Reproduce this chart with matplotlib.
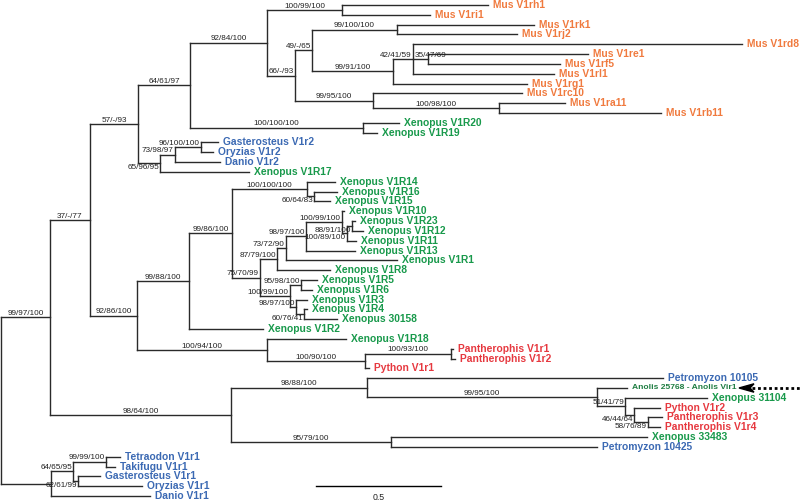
import matplotlib
matplotlib.use('Agg')
import matplotlib.pyplot as plt
from matplotlib.patches import Polygon

# tips, top to bottom: name, parent node, branch length
tip_names = [
    'Mus V1rh1', 'Mus V1ri1', 'Mus V1rk1', 'Mus V1rj2', 'Mus V1rd8', 'Mus V1re1',
    'Mus V1rf5', 'Mus V1rl1', 'Mus V1rg1', 'Mus V1rc10', 'Mus V1ra11', 'Mus V1rb11',
    'Xenopus V1R20', 'Xenopus V1R19', 'Gasterosteus V1r2', 'Oryzias V1r2', 'Danio V1r2',
    'Xenopus V1R17', 'Xenopus V1R14', 'Xenopus V1R16', 'Xenopus V1R15', 'Xenopus V1R10',
    'Xenopus V1R23', 'Xenopus V1R12', 'Xenopus V1R11', 'Xenopus V1R13', 'Xenopus V1R1',
    'Xenopus V1R8', 'Xenopus V1R5', 'Xenopus V1R6', 'Xenopus V1R3', 'Xenopus V1R4',
    'Xenopus 30158', 'Xenopus V1R2', 'Xenopus V1R18', 'Pantherophis V1r1',
    'Pantherophis V1r2', 'Python V1r1', 'Petromyzon 10105', 'Anolis 25768 - Anolis Vir1',
    'Xenopus 31104', 'Python V1r2', 'Pantherophis V1r3', 'Pantherophis V1r4',
    'Xenopus 33483', 'Petromyzon 10425', 'Tetraodon V1r1', 'Takifugu V1r1',
    'Gasterosteus V1r1', 'Oryzias V1r1', 'Danio V1r1']
tip_parent = [
    'F', 'F', 'I', 'I', 'K', 'L', 'L', 'K', 'J', 'M', 'N', 'N',
    'O', 'O', 'S', 'S', 'Q', 'P', 'W', 'X', 'X', 'AC', 'AD', 'AD', 'AE', 'AB', 'AA',
    'Z', 'AG', 'AG', 'AH', 'AI', 'AI', 'U', 'AJ', 'AL', 'AL', 'AK', 'AN', 'AO',
    'AP', 'AQ', 'AR', 'AR', 'AS', 'AS', 'AV', 'AV', 'AW', 'AW', 'AT']
tip_length = [
    0.584, 0.352, 0.548, 0.48, 1.316, 0.64, 0.528, 0.564, 0.536, 0.596, 0.264, 0.648,
    0.144, 0.056, 0.068, 0.048, 0.18, 0.356, 0.112, 0.092, 0.064, 0.008,
    0.012, 0.044, 0.036, 0.196, 0.444, 0.212, 0.064, 0.044, 0.044, 0.012,
    0.132, 0.296, 0.316, 0.008, 0.016, 0.016, 1.184, 0.12,
    0.328, 0.104, 0.056, 0.048, 1.024, 0.824, 0.056, 0.036, 0.088, 0.256, 0.396]

# internal nodes
node_names = ['R', 'A', 'B', 'C', 'D', 'E', 'F', 'G', 'H', 'I', 'J', 'K', 'L', 'M', 'N',
              'O', 'P', 'Q', 'S', 'T', 'U', 'V', 'W', 'X', 'Y', 'Z', 'AA', 'AB', 'AC',
              'AE', 'AD', 'AF', 'AG', 'AH', 'AI', 'AJ', 'AK', 'AL', 'AM', 'AN', 'AO',
              'AP', 'AQ', 'AR', 'AS', 'AT', 'AU', 'AV', 'AW']
node_parent = [None, 'R', 'A', 'B', 'C', 'D', 'E', 'E', 'G', 'H', 'H', 'J', 'K', 'G', 'M',
               'D', 'C', 'P', 'Q', 'B', 'T', 'U', 'V', 'W', 'V', 'Y', 'Z', 'AA', 'AB',
               'AC', 'AE', 'Y', 'AF', 'AF', 'AH', 'T', 'AJ', 'AK', 'A', 'AM', 'AN',
               'AO', 'AP', 'AQ', 'AM', 'R', 'AT', 'AU', 'AU']
node_length = [0.0, 0.196, 0.16, 0.192, 0.208, 0.308, 0.30, 0.112, 0.068, 0.34, 0.324,
               0.08, 0.06, 0.312, 0.504, 0.692, 0.088, 0.06, 0.104, 0.188, 0.208, 0.172,
               0.30, 0.028, 0.112, 0.068, 0.036, 0.08, 0.144, 0.02, 0.02, 0.12, 0.044,
               0.024, 0.032, 0.52, 0.392, 0.344, 0.724, 0.544, 0.92, 0.112, 0.036,
               0.056, 0.64, 0.2, 0.088, 0.132, 0.02]
node_support = ['', '99/97/100', '37/-/77', '57/-/93', '64/61/97', '92/84/100',
                '100/99/100', '66/-/93', '49/-/65', '99/100/100', '99/91/100',
                '42/41/59', '35/47/69', '99/95/100', '100/98/100', '100/100/100',
                '65/96/95', '73/98/97', '96/100/100', '92/86/100', '99/88/100',
                '99/86/100', '100/100/100', '60/64/83', '75/70/99', '87/79/100',
                '73/72/90', '98/97/100', '100/99/100', '100/89/100', '88/91/100',
                '100/99/100', '95/98/100', '98/97/100', '60/76/41', '100/94/100',
                '100/90/100', '100/93/100', '98/64/100', '98/88/100', '99/95/100',
                '51/41/79', '46/44/64', '58/76/89', '95/79/100', '', '64/65/95',
                '99/99/100', '62/61/99']
# support values printed under their branch
below = {'65/96/95', '60/64/83', '60/76/41', '88/91/100', '100/89/100',
         '46/44/64', '58/76/89', '62/61/99'}
# support values that start at the branch base instead of ending at the node
from_base = {'35/47/69'}

genus_colors = {'Mus': '#f07a3e', 'Xenopus': '#18994b', 'Gasterosteus': '#3b69b3',
                'Oryzias': '#3b69b3', 'Danio': '#3b69b3', 'Tetraodon': '#3b69b3',
                'Takifugu': '#3b69b3', 'Petromyzon': '#3b69b3', 'Python': '#e6383f',
                'Pantherophis': '#e6383f', 'Anolis': '#1f7d42'}

W, H = 800, 500
PX = 250.0          # pixels per unit of branch length
X0 = 1.0
TIP0, TIPSTEP = 5.0, 9.82

plt.rcParams['font.family'] = ['Liberation Sans', 'DejaVu Sans']
fig = plt.figure(figsize=(8, 5), dpi=100)
ax = fig.add_axes([0, 0, 1, 1])
ax.set_xlim(-X0 / PX, (W - X0) / PX)
ax.set_ylim((H - TIP0) / TIPSTEP, -TIP0 / TIPSTEP)
ax.axis('off')

parent = dict(zip(node_names, node_parent))
parent.update(zip(tip_names, tip_parent))
length = dict(zip(node_names, node_length))
length.update(zip(tip_names, tip_length))
children = {n: [] for n in node_names}
for n in node_names + tip_names:
    if parent[n] is not None:
        children[parent[n]].append(n)

depth = {}
def get_depth(n):
    if n not in depth:
        p = parent[n]
        depth[n] = 0.0 if p is None else get_depth(p) + length[n]
    return depth[n]

ypos = {name: i for i, name in enumerate(tip_names)}
def get_y(n):
    if n not in ypos:
        ys = [get_y(c) for c in children[n]]
        ypos[n] = (min(ys) + max(ys)) / 2
    return ypos[n]

for n in node_names + tip_names:
    get_depth(n)
    get_y(n)

lc = '#2a2a2a'
lw = 1.0
for n in node_names + tip_names:
    p = parent[n]
    if p is not None:
        ax.plot([depth[p], depth[n]], [ypos[n], ypos[n]], color=lc, lw=lw,
                solid_capstyle='projecting')
for n in node_names:
    ys = [ypos[c] for c in children[n]]
    ax.plot([depth[n], depth[n]], [min(ys), max(ys)], color=lc, lw=lw,
            solid_capstyle='projecting')

# tip labels
for n in tip_names:
    genus = n.split()[0]
    small = genus == 'Anolis'
    ax.annotate(n, (depth[n], ypos[n]), xytext=(3.6, 0), textcoords='offset points',
                ha='left', va='center', fontsize=6.1 if small else 7.4,
                fontweight='bold', color=genus_colors[genus])

# support values
renderer = fig.canvas.get_renderer()
for n, sup in zip(node_names, node_support):
    if not sup:
        continue
    xa, xb, y = depth[parent[n]], depth[n], ypos[n]
    dy, va = (-0.4, 'top') if sup in below else (0.2, 'bottom')
    if sup in from_base:
        ax.annotate(sup, (xa, y), xytext=(1.5, dy), textcoords='offset points',
                    ha='left', va=va, fontsize=5.9, color='#222222')
        continue
    t = ax.annotate(sup, ((xa + xb) / 2, y), xytext=(0, dy), textcoords='offset points',
                    ha='center', va=va, fontsize=5.9, color='#222222')
    bb = t.get_window_extent(renderer)
    node_px = ax.transData.transform((xb, y))[0]
    if bb.x1 > node_px - 1:
        t.xy = (xb, y)
        t.set_position((-0.8, dy))
        t.set_ha('right')

# scale bar
def px_x(p):
    return (p - X0) / PX

def px_y(p):
    return (p - TIP0) / TIPSTEP

scale_len = 0.5
sb_x = px_x(316)
ax.plot([sb_x, sb_x + scale_len], [px_y(486), px_y(486)], color='black', lw=1.0)
ax.text(sb_x + scale_len / 2, px_y(497), '0.5', ha='center', va='center',
        fontsize=6.3, color='#222222')

# arrow pointing at the Anolis sequence
ya = ypos['Anolis 25768 - Anolis Vir1']
ax.plot([px_x(752), px_x(800)], [ya, ya], color='black', lw=2.0,
        linestyle=(0, (1.0, 1.0)))
hw = 4.2 / TIPSTEP
head = Polygon([(px_x(739), ya), (px_x(754), ya - hw), (px_x(750), ya),
                (px_x(754), ya + hw)], closed=True, color='black')
ax.add_patch(head)

fig.savefig('out.png', dpi=100)
